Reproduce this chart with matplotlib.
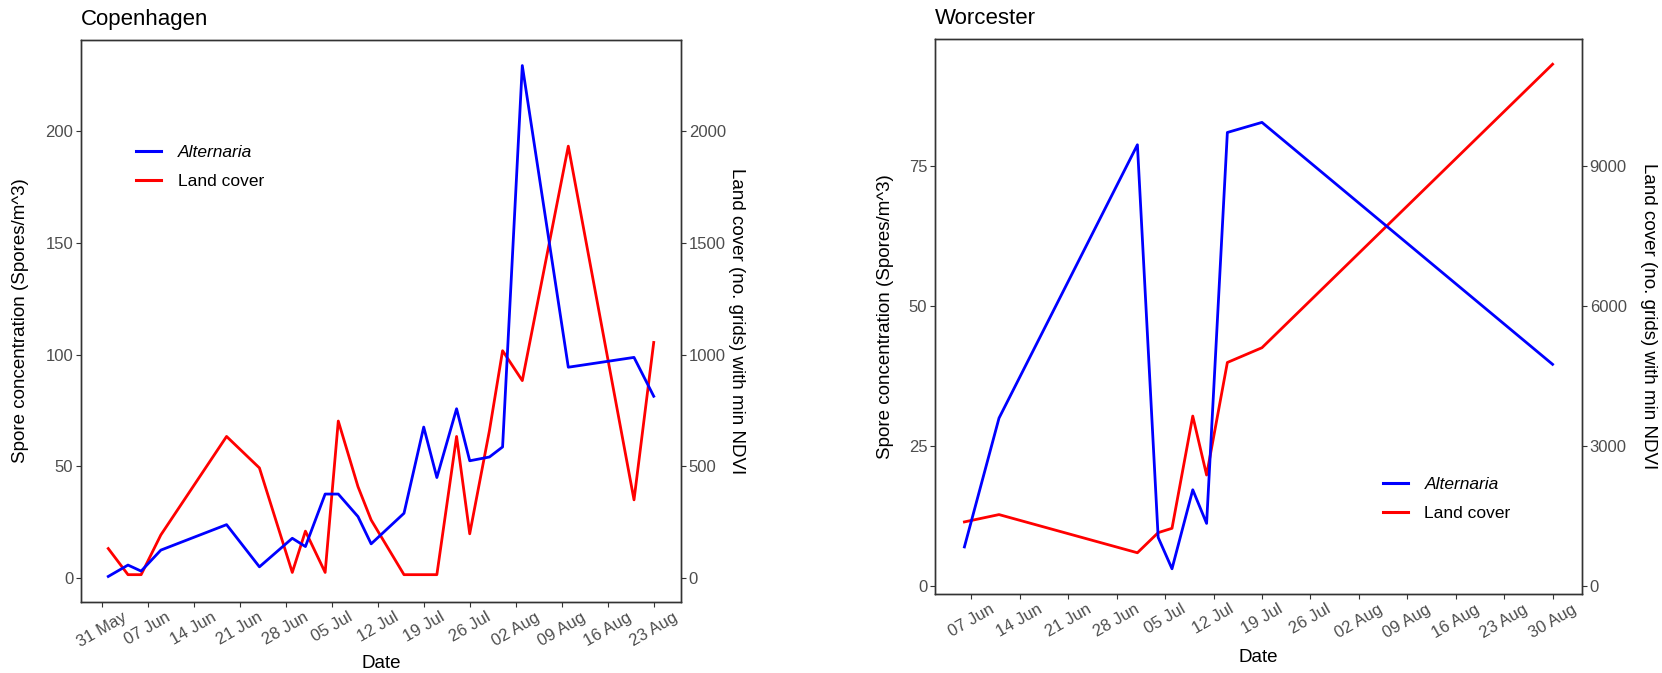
import numpy as np
import pandas as pd
import matplotlib
matplotlib.use('Agg')
import matplotlib.pyplot as plt
import matplotlib.dates as mdates
from matplotlib.lines import Line2D

plt.rcParams['font.family'] = ['Liberation Sans', 'DejaVu Sans']

# --- Copenhagen verileri ---
cph_tarih = pd.to_datetime([
    '2019-06-01', '2019-06-04', '2019-06-06', '2019-06-09', '2019-06-19', '2019-06-24',
    '2019-06-29', '2019-07-01', '2019-07-04', '2019-07-06', '2019-07-09', '2019-07-11',
    '2019-07-16', '2019-07-19', '2019-07-21', '2019-07-24', '2019-07-26', '2019-07-29',
    '2019-07-31', '2019-08-03', '2019-08-10', '2019-08-20', '2019-08-23'])
cph_alternaria = [0.7, 5.8, 3.1, 12.5, 23.9, 5.0, 17.8, 14.1, 37.6, 37.6, 27.5, 15.3,
                  29.0, 67.6, 45.0, 75.8, 52.5, 54.2, 58.7, 229.5, 94.4, 98.8, 81.4]
cph_arazi = [132, 15, 15, 193, 634, 493, 25, 210, 25, 703, 409, 260,
             15, 15, 15, 634, 198, 660, 1018, 884, 1934, 350, 1055]

# --- Worcester verileri ---
wor_tarih = pd.to_datetime([
    '2019-06-06', '2019-06-11', '2019-07-01', '2019-07-04', '2019-07-06',
    '2019-07-09', '2019-07-11', '2019-07-14', '2019-07-19', '2019-08-30'])
wor_alternaria = [6.9, 29.9, 78.7, 8.6, 3.0, 17.1, 11.1, 80.9, 82.7, 39.5]
wor_arazi = [1364, 1521, 703, 1134, 1227, 3632, 2368, 4780, 5096, 11170]

cph_sol_ticks = [0, 50, 100, 150, 200]
cph_sag_ticks = [0, 500, 1000, 1500, 2000]
wor_sol_ticks = [0, 25, 50, 75]
wor_sag_ticks = [0, 3000, 6000, 9000]

W, H = 1662, 673
fig = plt.figure(figsize=(W / 100, H / 100), dpi=100)

KENAR = '#333333'
YAZI = '#4D4D4D'


def panel_ciz(kutu, tarih, alternaria, arazi, oran, baslik, sol_ticks, sag_ticks,
              lejant_xy, etiket_x, sag_etiket_x, date_y):
    x0, y0, x1, y1 = kutu
    ax = fig.add_axes([x0 / W, 1 - y1 / H, (x1 - x0) / W, (y1 - y0) / H])
    ax2 = ax.twinx()
    ax.set_zorder(ax2.get_zorder() + 1)
    ax.patch.set_visible(False)

    ax2.plot(tarih, arazi, color='red', linewidth=2.0)
    ax.plot(tarih, alternaria, color='blue', linewidth=2.0)

    # ggplot tarzı %5 genişletme
    tum = np.concatenate([np.asarray(alternaria, float), np.asarray(arazi, float) / oran])
    alt, ust = tum.min(), tum.max()
    pay = 0.05 * (ust - alt)
    ax.set_ylim(alt - pay, ust + pay)
    ax2.set_ylim((alt - pay) * oran, (ust + pay) * oran)

    xs = mdates.date2num(tarih)
    xpay = 0.05 * (xs.max() - xs.min())
    ax.set_xlim(xs.min() - xpay, xs.max() + xpay)

    ax.set_yticks(sol_ticks)
    ax2.set_yticks(sag_ticks)
    ax.xaxis.set_major_locator(mdates.WeekdayLocator(byweekday=mdates.FR))
    ax.xaxis.set_major_formatter(mdates.DateFormatter('%d %b'))
    for lbl in ax.get_xticklabels():
        lbl.set_rotation(30)
        lbl.set_ha('center')

    for a in (ax, ax2):
        a.tick_params(direction='out', length=3.5, width=0.8, color=KENAR,
                      labelsize=12, labelcolor=YAZI, pad=2)
        for s in a.spines.values():
            s.set_color(KENAR)
            s.set_linewidth(1.0)

    cizgiler = [Line2D([], [], color='blue', linewidth=2.2),
                Line2D([], [], color='red', linewidth=2.2)]
    lej = ax.legend(cizgiler, ['Alternaria', 'Land cover'], loc='center left',
                    bbox_to_anchor=lejant_xy, frameon=False, fontsize=12.5,
                    handlelength=1.45, handletextpad=0.95, labelspacing=0.8,
                    borderpad=0, borderaxespad=0)
    lej.get_texts()[0].set_fontstyle('italic')

    orta_y = (y0 + y1) / 2
    fig.text(x0 / W, 1 - 19 / H, baslik, fontsize=16, ha='left', va='center')
    fig.text(etiket_x / W, 1 - orta_y / H, 'Spore concentration (Spores/m^3)',
             fontsize=13.5, rotation=90, ha='center', va='center')
    fig.text(sag_etiket_x / W, 1 - orta_y / H, 'Land cover (no. grids) with min NDVI',
             fontsize=13.5, rotation=270, ha='center', va='center')
    fig.text((x0 + x1) / 2 / W, 1 - date_y / H, 'Date', fontsize=13.5,
             ha='center', va='center')
    return ax


panel_ciz((81, 40, 681, 602), cph_tarih, cph_alternaria, cph_arazi, 10, 'Copenhagen',
          cph_sol_ticks, cph_sag_ticks, (0.092, 0.774), 21, 737, 663)
panel_ciz((935, 39, 1582, 594), wor_tarih, wor_alternaria, wor_arazi, 120, 'Worcester',
          wor_sol_ticks, wor_sag_ticks, (0.692, 0.171), 885, 1648, 657)

fig.savefig('out.png', dpi=100)
